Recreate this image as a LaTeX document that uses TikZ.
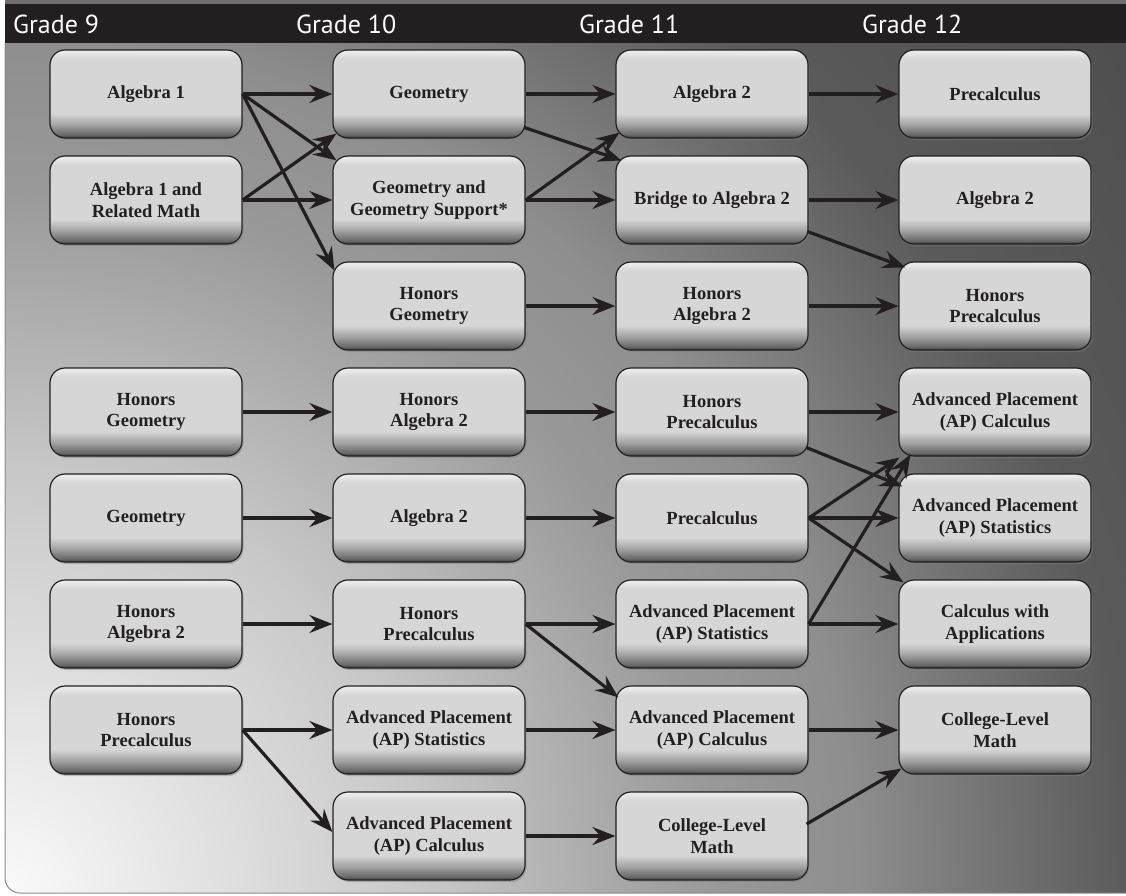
\documentclass[tikz,border=0pt]{standalone}
\usepackage{fontspec}
\setmainfont{Liberation Serif}
\newfontfamily\gradefont{PT Sans}
\usetikzlibrary{arrows.meta,calc,shadows}

\definecolor{ink}{HTML}{231F20}
\definecolor{boxtop}{HTML}{EBEBEB}
\definecolor{boxface}{HTML}{D6D6D6}
\definecolor{boxrim}{HTML}{A6A6A6}
\definecolor{boxshade}{HTML}{6A6A6A}
\definecolor{boxdark}{HTML}{3E3E3E}
\definecolor{bgA}{HTML}{FAFAFA}
\definecolor{bgB}{HTML}{C7C7C7}
\definecolor{bgC}{HTML}{999999}
\definecolor{bgD}{HTML}{8E8E8E}
\definecolor{bgE}{HTML}{5A5A5A}
\definecolor{bgF}{HTML}{4E4E4E}

\pgfdeclareverticalshading{bevel}{100bp}{color(0bp)=(boxdark); color(25bp)=(boxdark); color(27bp)=(boxshade); color(33bp)=(boxrim); color(39bp)=(boxface); color(70bp)=(boxface); color(74bp)=(boxtop); color(100bp)=(boxtop)}
\pgfdeclareradialshading{backdrop}{\pgfpoint{0bp}{0bp}}{color(0bp)=(bgA); color(7.5bp)=(bgB); color(12.4bp)=(bgC); color(15bp)=(bgD); color(19.8bp)=(bgE); color(25bp)=(bgF); color(50bp)=(bgF)}

\tikzset{
	course/.style={shade, shading=bevel, draw=ink, line width=1.2pt, rounded corners=15pt,
		minimum width=192pt, minimum height=88pt, align=center, text=ink,
		font=\bfseries\fontsize{18.5}{21.5}\selectfont,
		drop shadow={shadow xshift=1.5pt, shadow yshift=-2pt, opacity=0.45}},
	link/.style={draw=ink, line width=3.2pt, -{Stealth[length=23pt, width=18pt, inset=8pt]}},
	grade/.style={anchor=west, inner sep=0pt, text=white, font=\gradefont\fontsize{26}{30}\selectfont}
}

\begin{document}
\begin{tikzpicture}[x=1pt,y=-1pt]
		\def\colstep{283}
		\def\rowstep{106}
		\useasboundingbox (0,0) rectangle (1126,895);
		\fill[black!57] (5,0) rectangle (1126,4);
		\begin{scope}
			\clip[rounded corners=15pt] (5,20) -- (5,893) -- (1200,893) -- (1200,20) -- cycle;
			\shade[shading=backdrop] (5,893) circle[radius=1420pt];
		\end{scope}
		\draw[black!45, line width=1pt, rounded corners=15pt] (5,43) -- (5,893) -- (1200,893);
		\fill[ink] (5,4) rectangle (1126,43);
		\foreach \g in {9,10,11,12}
		{
			\node[grade] (head\g) at ({13+(\g-9)*\colstep}, 24) {Grade \g};
		}
		\foreach \g/\r/\t in {
			9/1/{Algebra 1}, 9/2/{Algebra 1 and\\Related Math}, 9/4/{Honors\\Geometry},
			9/5/{Geometry}, 9/6/{Honors\\Algebra 2}, 9/7/{Honors\\Precalculus},
			10/1/{Geometry}, 10/2/{Geometry and\\Geometry Support*}, 10/3/{Honors\\Geometry},
			10/4/{Honors\\Algebra 2}, 10/5/{Algebra 2}, 10/6/{Honors\\Precalculus},
			10/7/{Advanced Placement\\(AP) Statistics}, 10/8/{Advanced Placement\\(AP) Calculus},
			11/1/{Algebra 2}, 11/2/{Bridge to Algebra 2}, 11/3/{Honors\\Algebra 2},
			11/4/{Honors\\Precalculus}, 11/5/{Precalculus}, 11/6/{Advanced Placement\\(AP) Statistics},
			11/7/{Advanced Placement\\(AP) Calculus}, 11/8/{College-Level\\Math},
			12/1/{Precalculus}, 12/2/{Algebra 2}, 12/3/{Honors\\Precalculus},
			12/4/{Advanced Placement\\(AP) Calculus}, 12/5/{Advanced Placement\\(AP) Statistics},
			12/6/{Calculus with\\Applications}, 12/7/{College-Level\\Math}}
		{
			\node[course] (g\g-\r) at ({146+(\g-9)*\colstep}, {94+(\r-1)*\rowstep}) {\t};
		}
		\foreach \a/\b in {g9-1/g10-1, g9-2/g10-2, g10-1/g11-1, g10-2/g11-2, g10-3/g11-3,
			g11-1/g12-1, g11-2/g12-2, g11-3/g12-3, g9-4/g10-4, g10-4/g11-4, g11-4/g12-4,
			g9-5/g10-5, g10-5/g11-5, g11-5/g12-5, g9-6/g10-6, g10-6/g11-6, g11-6/g12-6,
			g9-7/g10-7, g10-7/g11-7, g11-7/g12-7, g10-8/g11-8}
		{
			\draw[link] (\a) -- (\b);
		}
		\draw[link] (g9-1.east) -- ($(g10-2.north west)+(4,5)$);
		\draw[link] (g9-1.east) -- ($(g10-3.north west)+(2,9)$);
		\draw[link] (g9-2.east) -- ($(g10-1.south west)+(4,-5)$);
		\draw[link] ($(g10-1.south east)+(-1,-11)$) -- ($(g11-2.north west)+(6,5)$);
		\draw[link] (g10-2.east) -- ($(g11-1.south west)+(4,-6)$);
		\draw[link] ($(g11-2.south east)+(-1,-13)$) -- ($(g12-3.north west)+(7,6)$);
		\draw[link] ($(g11-4.south east)+(-2,-9)$) -- ($(g12-5.north west)+(4,13)$);
		\draw[link] (g11-5.east) -- ($(g12-4.south west)+(1,1)$);
		\draw[link] (g11-5.east) -- ($(g12-6.north west)+(5,3)$);
		\draw[link] (g11-6.east) -- ($(g12-4.south west)+(12,-2)$);
		\draw[link] (g10-6.east) -- ($(g11-7.north west)+(3,12)$);
		\draw[link] (g9-7.east) -- ($(g10-8.west)+(0,-4)$);
		\draw[link] ($(g11-8.east)+(-2,-12)$) -- ($(g12-7.south west)+(3,-6)$);
\end{tikzpicture}
\end{document}
